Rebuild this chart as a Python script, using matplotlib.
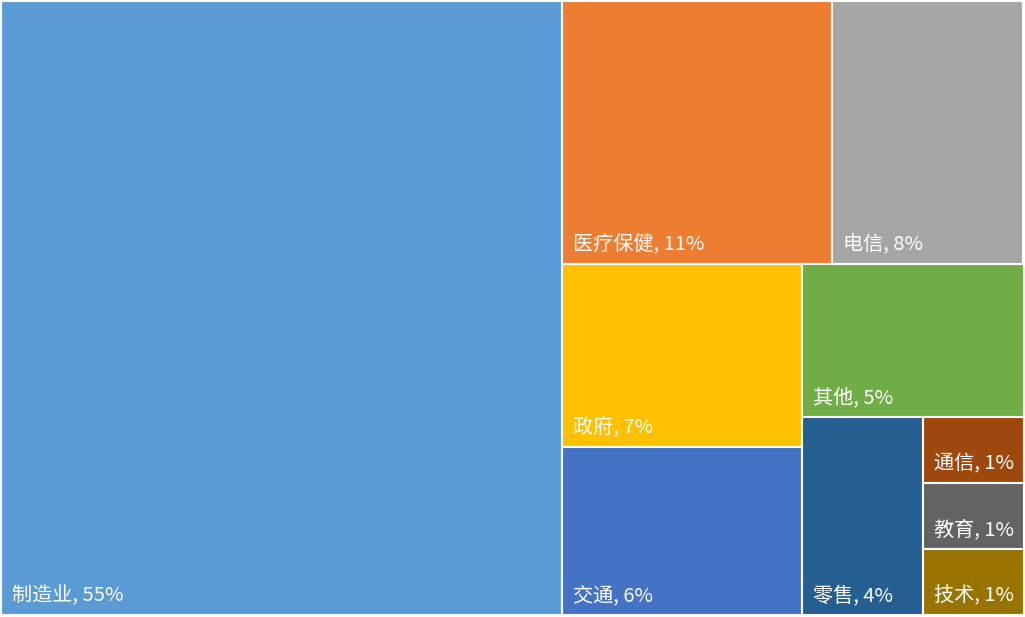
import matplotlib
matplotlib.use("Agg")
import matplotlib.pyplot as plt
from matplotlib.patches import Rectangle

plt.rcParams['font.family'] = ['Noto Sans CJK SC', 'DejaVu Sans']

categories = ["制造业", "医疗保健", "电信", "政府", "交通", "其他", "零售", "通信", "教育", "技术"]
values = [54.9, 11.3, 8.0, 7.0, 6.4, 5.4, 3.8, 1.05, 1.05, 1.05]
colors = ["#5B9BD5", "#ED7D31", "#A5A5A5", "#FFC000", "#4472C4",
          "#70AD47", "#255E91", "#9E480E", "#636363", "#997300"]

W, H = 1023.0, 614.5


def worst(row, w):
    s = sum(row)
    return max(max(w * w * r / (s * s), (s * s) / (w * w * r)) for r in row)


def squarify(areas, x, y, dx, dy):
    rects = []
    areas = list(areas)
    while areas:
        w = min(dx, dy)
        row = [areas[0]]
        i = 1
        while i < len(areas) and worst(row + [areas[i]], w) <= worst(row, w):
            row.append(areas[i])
            i += 1
        s = sum(row)
        if dx >= dy:
            cw = s / dy
            cy = y
            for a in row:
                h = a / cw
                rects.append((x, cy, cw, h))
                cy += h
            x += cw
            dx -= cw
        else:
            rh = s / dx
            cx = x
            for a in row:
                ww = a / rh
                rects.append((cx, y, ww, rh))
                cx += ww
            y += rh
            dy -= rh
        areas = areas[i:]
    return rects


total = sum(values)
areas = [v / total * W * H for v in values]
rects = squarify(areas, 0, 0, W, H)

fig = plt.figure(figsize=(10.25, 6.17), dpi=100)
ax = fig.add_axes([0.5 / 1025, 2.0 / 617, W / 1025, H / 617])
ax.set_xlim(0, W)
ax.set_ylim(H, 0)
ax.axis('off')

for (x, y, w, h), c, name, v in zip(rects, colors, categories, values):
    ax.add_patch(Rectangle((x, y), w, h, facecolor=c, edgecolor='white', linewidth=1.5))
    pct = round(v / total * 100)
    ax.annotate(f"{name}, {pct}%", xy=(x, y + h), xytext=(11, 14),
                textcoords='offset pixels', ha='left', va='baseline',
                color='white', fontsize=14.5)

fig.savefig("out.png", dpi=100)
